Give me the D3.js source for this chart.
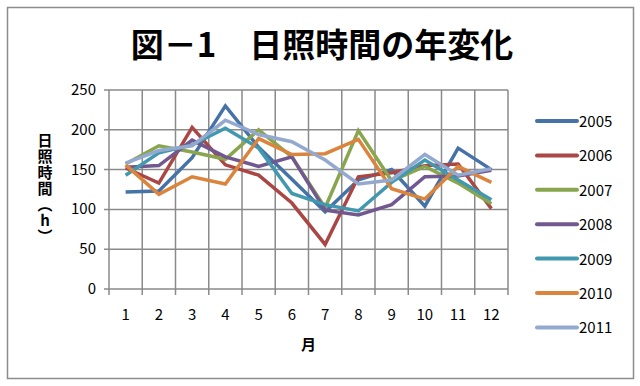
<!DOCTYPE html>
<html>
<head>
<meta charset="utf-8">
<script src="https://cdn.jsdelivr.net/npm/d3@7"></script>
<style>
  body { margin: 0; background: #fff; }
  text { font-family: "Noto Sans CJK JP", "Noto Sans", sans-serif; }
</style>
</head>
<body>
<div id="chart"></div>
<script>
// Data
var months = [1, 2, 3, 4, 5, 6, 7, 8, 9, 10, 11, 12];
var years = ["2005", "2006", "2007", "2008", "2009", "2010", "2011"];
var yTicks = [0, 50, 100, 150, 200, 250];
var s2005 = [122, 123, 165, 230, 178, 138, 97, 137, 150, 104, 177, 150];
var s2006 = [152, 133, 203, 156, 143, 108, 56, 141, 146, 155, 157, 101];
var s2007 = [157, 180, 172, 163, 200, 166, 102, 199, 136, 154, 133, 107];
var s2008 = [153, 155, 187, 166, 154, 166, 99, 93, 106, 141, 142, 149];
var s2009 = [143, 171, 181, 202, 177, 120, 106, 98, 134, 162, 137, 112];
var s2010 = [156, 119, 141, 132, 189, 169, 170, 188, 126, 113, 154, 134];
var s2011 = [158, 174, 180, 212, 194, 185, 162, 132, 137, 169, 143, 151];
var seriesVals = [s2005, s2006, s2007, s2008, s2009, s2010, s2011];
var colors = ["#4572A7", "#AA4643", "#89A54E", "#71588F", "#4198AF", "#DB843D", "#93A9CF"];

var W = 640, H = 386;
var svg = d3.select("#chart").append("svg")
    .attr("width", W)
    .attr("height", H);

// Outer frame
svg.append("rect")
    .attr("x", 7.5).attr("y", 7.5)
    .attr("width", 626).attr("height", 371)
    .attr("fill", "#fff")
    .attr("stroke", "#8c8c8c")
    .attr("stroke-width", 1.5);

// Title
svg.append("text")
    .attr("x", 322).attr("y", 57)
    .attr("text-anchor", "middle")
    .attr("font-size", 33)
    .attr("font-weight", "bold")
    .text("図－1　日照時間の年変化");

// Plot area
var plot = {left: 109, right: 508, top: 90, bottom: 289};

var x = d3.scaleBand()
    .domain(months)
    .range([plot.left, plot.right]);
var y = d3.scaleLinear()
    .domain([0, 250])
    .range([plot.bottom, plot.top]);

// Horizontal gridlines (with small ticks to the left)
svg.append("g")
    .selectAll("line")
    .data(yTicks)
    .enter()
    .append("line")
    .attr("x1", plot.left - 5)
    .attr("x2", plot.right)
    .attr("y1", d => y(d))
    .attr("y2", d => y(d))
    .attr("stroke", "#8a8a8a")
    .attr("stroke-width", 1.5);

// Vertical gridlines at category boundaries (extend below as ticks)
var bounds = months.map(m => x(m)).concat([plot.right]);
svg.append("g")
    .selectAll("line")
    .data(bounds)
    .enter()
    .append("line")
    .attr("x1", d => d)
    .attr("x2", d => d)
    .attr("y1", plot.top)
    .attr("y2", plot.bottom + 6)
    .attr("stroke", "#8a8a8a")
    .attr("stroke-width", 1.5);

// Y tick labels
svg.append("g")
    .selectAll("text")
    .data(yTicks)
    .enter()
    .append("text")
    .attr("x", 96)
    .attr("y", d => y(d) + 5)
    .attr("text-anchor", "end")
    .attr("font-size", 15)
    .text(d => d);

// X tick labels
svg.append("g")
    .selectAll("text")
    .data(months)
    .enter()
    .append("text")
    .attr("x", d => x(d) + x.bandwidth() / 2)
    .attr("y", 320)
    .attr("text-anchor", "middle")
    .attr("font-size", 15)
    .text(d => d);

// Axis titles
svg.append("text")
    .attr("x", x(6) + x.bandwidth())
    .attr("y", 350)
    .attr("text-anchor", "middle")
    .attr("font-size", 15)
    .attr("font-weight", "bold")
    .text("月");

// vertical y label
svg.append("text")
    .attr("x", 45)
    .attr("y", 133)
    .attr("font-size", 15)
    .attr("font-weight", "bold")
    .style("writing-mode", "vertical-rl")
    .style("text-orientation", "upright")
    .style("letter-spacing", "1px")
    .text("日照時間（h）");

// Lines
var line = d3.line()
    .x((d, i) => x(months[i]) + x.bandwidth() / 2)
    .y(d => y(d));

svg.append("g")
    .selectAll("path")
    .data(seriesVals)
    .enter()
    .append("path")
    .attr("d", d => line(d))
    .attr("fill", "none")
    .attr("stroke", (d, i) => colors[i])
    .attr("stroke-width", 3.5)
    .attr("stroke-linejoin", "miter");

// Legend
var legend = svg.append("g")
    .selectAll("g")
    .data(years)
    .enter()
    .append("g")
    .attr("transform", (d, i) => "translate(" + [537, 121 + i * 34.4] + ")");

legend.append("line")
    .attr("x1", 0).attr("x2", 40)
    .attr("y1", 0).attr("y2", 0)
    .attr("stroke", (d, i) => colors[i])
    .attr("stroke-width", 4)
    .attr("stroke-linecap", "round");

legend.append("text")
    .attr("x", 42)
    .attr("y", 6)
    .attr("font-size", 15)
    .text(d => d);
</script>
</body>
</html>
